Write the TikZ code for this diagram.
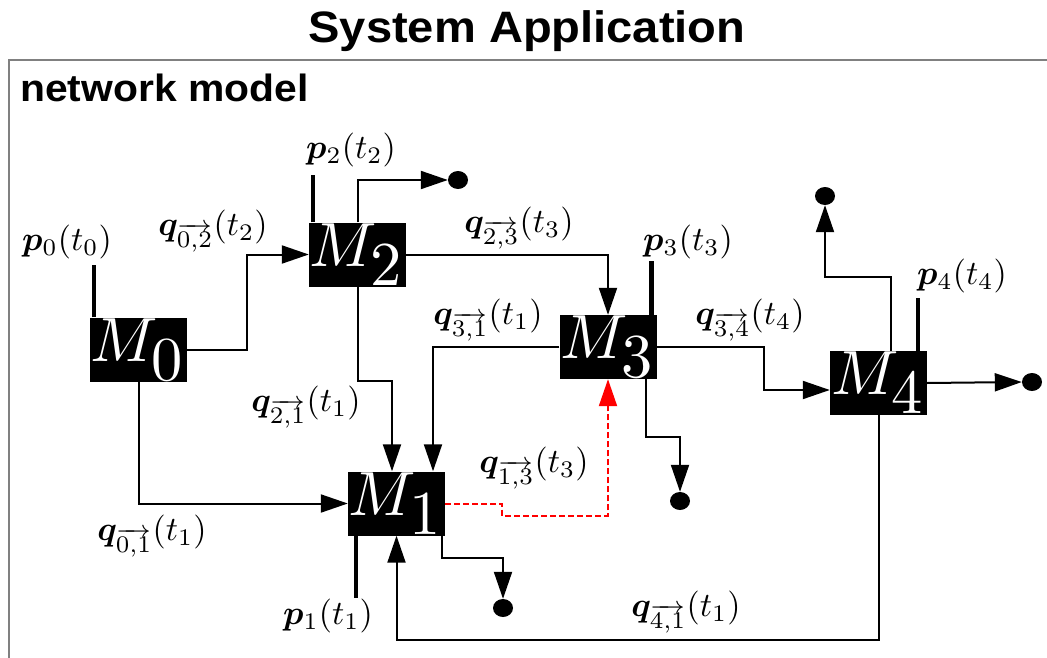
\documentclass[tikz,border=0pt]{standalone}
\usepackage{amsmath}
\usepackage{bm}
\usepackage{graphicx}
\usepackage{fontspec}
\newfontfamily\headfont{Liberation Sans}
\usetikzlibrary{arrows.meta,shapes.geometric,calc}
\newcommand{\mlab}[1]{\scalebox{6.25}{$M_{\textstyle #1}$}}
\newcommand{\slab}[1]{\scalebox{3.4}{$#1$}}
\begin{document}
\begin{tikzpicture}[x=1pt,y=-1pt,
  mbox/.style={fill=black,text=white,minimum width=97pt,minimum height=64pt,inner sep=0pt},
  lbl/.style={inner sep=0pt},
  tip/.style={-{Triangle[length=27pt,width=18pt]}},
  conn/.style={line width=2pt,tip},
  pline/.style={line width=4.5pt},
  sink/.style={ellipse,fill=black,minimum width=20pt,minimum height=18pt,inner sep=0pt},
  flowred/.style={line width=2pt,red,dash pattern=on 6pt off 3pt,tip},
  frameline/.style={draw=gray,line width=1.5pt}]
\useasboundingbox (0,0) rectangle (1047,658);
% frame and headings
\draw[frameline] (9,660) -- (9,60) -- (1050,60);
\node[inner sep=0pt,anchor=base,xscale=1.07,font=\headfont\bfseries\fontsize{44}{44}\selectfont] (title) at (527,43) {System Application};
\node[inner sep=0pt,anchor=base west,xscale=1.075,font=\headfont\bfseries\fontsize{38}{38}\selectfont] (sub) at (20,102) {network model};
% machines
\node[mbox] (M0) at (138.5,349.5) {\mlab{0}};
\node[mbox] (M2) at (357.5,254.5) {\mlab{2}};
\node[mbox] (M3) at (608,347) {\mlab{3}};
\node[mbox] (M1) at (396.5,503.5) {\mlab{1}};
\node[mbox] (M4) at (878.5,383) {\mlab{4}};
% sinks
\node[sink] (d2) at (458,180) {};
\node[sink] (d4t) at (825,196) {};
\node[sink] (d4r) at (1032,382) {};
\node[sink] (d3) at (680,501) {};
\node[sink] (d1) at (503,608) {};
% label nodes
\node[lbl] (lp0) at (67,242) {\slab{\bm{p}_0(t_0)}};
\node[lbl] (lq02) at (213,231) {\slab{\bm{q}_{\overrightarrow{0,2}}(t_2)}};
\node[lbl] (lp2) at (351,150) {\slab{\bm{p}_2(t_2)}};
\node[lbl] (lq23) at (519,228) {\slab{\bm{q}_{\overrightarrow{2,3}}(t_3)}};
\node[lbl] (lp3) at (688,242) {\slab{\bm{p}_3(t_3)}};
\node[lbl] (lq31) at (488,320) {\slab{\bm{q}_{\overrightarrow{3,1}}(t_1)}};
\node[lbl] (lq34) at (750,320) {\slab{\bm{q}_{\overrightarrow{3,4}}(t_4)}};
\node[lbl] (lp4) at (962,276) {\slab{\bm{p}_4(t_4)}};
\node[lbl] (lq21) at (306,407) {\slab{\bm{q}_{\overrightarrow{2,1}}(t_1)}};
\node[lbl] (lq13) at (534,468) {\slab{\bm{q}_{\overrightarrow{1,3}}(t_3)}};
\node[lbl] (lq01) at (152,536) {\slab{\bm{q}_{\overrightarrow{0,1}}(t_1)}};
\node[lbl] (lp1) at (328,616) {\slab{\bm{p}_1(t_1)}};
\node[lbl] (lq41) at (686,612) {\slab{\bm{q}_{\overrightarrow{4,1}}(t_1)}};
% p inputs
\draw[pline] ([xshift=4pt]M0.north west) -- ++(0,-52);
\draw[pline] ([xshift=4pt]M2.north west) -- ++(0,-47);
\draw[pline] ([xshift=-5pt]M3.north east) -- ++(0,-54);
\draw[pline] ([xshift=-9pt]M4.north east) -- ++(0,-53);
\draw[pline] ([xshift=8pt]M1.south west) -- ++(0,62);
% flows
\draw[conn] (M0.east) -- ++(60,0) |- (M2.west);
\draw[conn] (M0.south) |- (M1.west);
\draw[conn] (M2.south) -- ++(0,94) -| ([xshift=-4.5pt]M1.north);
\draw[conn] (M3.west) -| ([xshift=36.5pt]M1.north);
\draw[conn] (M2.east) -| (M3.north);
\draw[conn] (M2.north) |- (d2.west);
\draw[conn] (M3.east) -- ++(107,0) |- ([yshift=-7pt]M4.west);
\draw[conn] ([xshift=12.5pt]M4.north) -- ++(0,-74) -| (d4t.south);
\draw[conn] (M4.east) -- (d4r.west);
\draw[conn] ([xshift=-11pt]M3.south east) -- ++(0,58) -| (d3.north);
\draw[conn] ([xshift=-3pt]M1.south east) -- ++(0,22) -| (d1.north);
\draw[conn] (M4.south) -- ++(0,225) -| (M1.south);
\draw[flowred] (M1.east) -- ++(57,0) -- ++(0,12) -| (M3.south);
\end{tikzpicture}
\end{document}
